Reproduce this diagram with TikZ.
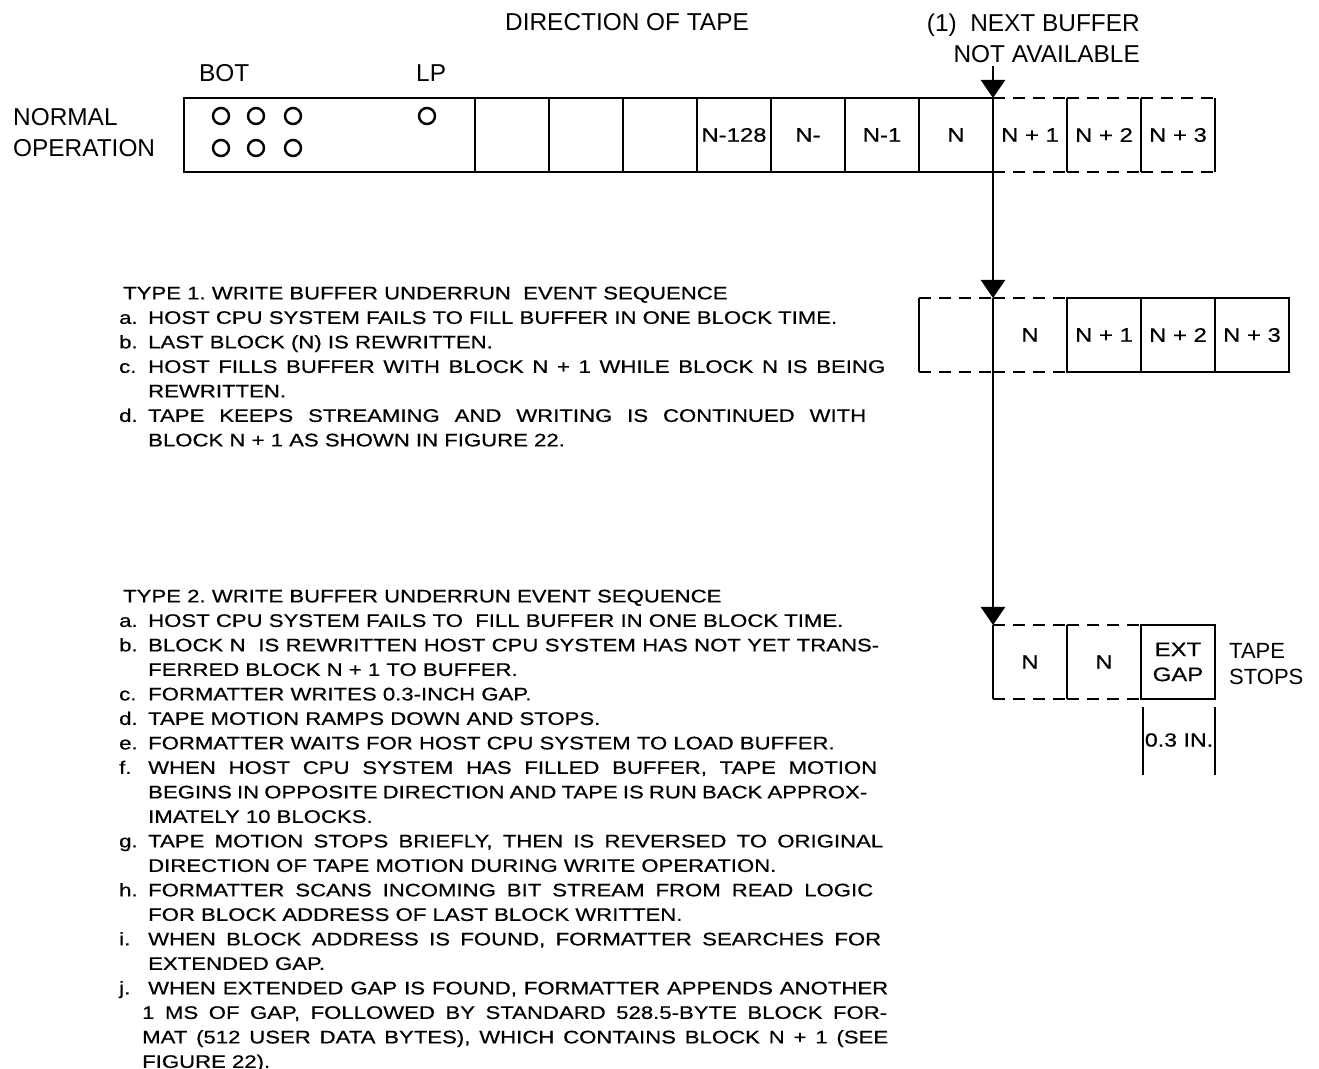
\documentclass[tikz,border=0pt]{standalone}
\usepackage{fontspec}
\setmainfont{Liberation Sans}
\newfontfamily\bodyfont[FakeStretch=1.22,FakeBold=0.5]{Liberation Sans}
\usetikzlibrary{positioning,arrows.meta}
\tikzset{
  blk/.style={draw,rectangle,minimum width=37pt,minimum height=37pt,
    inner sep=0pt,outer sep=0pt,font=\bodyfont\fontsize{9.8}{12.5}\selectfont},
  openblk/.style={blk,draw=none},
}
\newcommand{\itm}[1]{\makebox[14.5pt][l]{#1}}
\newcommand{\fillto}[2]{\makebox[#1][s]{#2}}

\begin{document}
\begin{tikzpicture}[x=0.5pt,y=-0.5pt,line width=1.2pt,
  lbl/.style={inner sep=0pt,font=\fontsize{12.2}{15.5}\selectfont},
  notes/.style={inner sep=0pt,anchor=north west,align=left,
    font=\bodyfont\fontsize{9.08}{12.25}\selectfont},
  gapline/.style={dash pattern=on 6pt off 4pt},
  feed/.style={-{Triangle[width=12pt,length=9pt]}}
]
  \useasboundingbox (0,0) rectangle (1319,1069);

  % labels over the tape
  \node[lbl] (dir) at (627,22) {DIRECTION OF TAPE};
  \node[lbl,align=right,anchor=north east] (nobuf) at (1141,13) {(1)\ \ NEXT BUFFER\\NOT AVAILABLE};
  \node[lbl,anchor=west] (botlbl) at (198,73) {BOT};
  \node[lbl,anchor=west] (lplbl) at (415,73) {LP};
  \node[lbl,align=left,anchor=west] (normal) at (12,132.5) {NORMAL\\OPERATION};

  % normal operation tape
  \node[blk,minimum width=145.5pt] (bot) at (329.5,135) {};
  \node[blk] (t1) at (512,135) {};
  \node[blk] (t2) at (586,135) {};
  \node[blk] (t3) at (660,135) {};
  \node[blk] (t128) at (734,135) {N-128};
  \node[blk] (tnm) at (808,135) {N-};
  \node[blk] (tn1) at (882,135) {N-1};
  \node[blk] (tn) at (956,135) {N};
  \node[openblk] (tp1) at (1030,135) {N + 1};
  \node[openblk] (tp2) at (1104,135) {N + 2};
  \node[openblk] (tp3) at (1178,135) {N + 3};

  \foreach \x in {221,256,293}
    \foreach \y in {116,148}
      \draw (\x,\y) circle[radius=4pt];
  \draw (427,116) circle[radius=4pt];

  % type 1 tape
  \node[openblk] (m0) at (956,335) {};
  \node[openblk] (mn) at (1030,335) {N};
  \node[blk] (mp1) at (1104,335) {N + 1};
  \node[blk] (mp2) at (1178,335) {N + 2};
  \node[blk] (mp3) at (1252,335) {N + 3};

  % type 2 tape
  \node[openblk] (s1) at (1030,662) {N};
  \node[openblk] (s2) at (1104,662) {N};
  \node[blk,align=center] (extgap) at (1178,662) {EXT\\GAP};
  \node[lbl,align=left,anchor=west,font=\fontsize{11}{13}\selectfont] (stops) at (1228,664) {TAPE\\STOPS};

  % blocks not yet on tape
  \foreach \c in {tp1,tp2,tp3,m0,mn,s1,s2}{
    \draw[gapline] (\c.north west) -- (\c.north east);
    \draw[gapline] (\c.south west) -- (\c.south east);
  }
  \foreach \c in {tp1,tp2,tp3,m0,s1}
    \draw (\c.north east) -- (\c.south east);
  \draw (m0.north west) -- (m0.south west);
  \draw (s1.north west) -- (s1.south west);

  % where the buffer runs out
  \coordinate (drop) at (993,66);
  \draw[feed] (drop) -- (tn.north east);
  \draw[feed] (tn.south east) -- (m0.north east);
  \draw[feed] (m0.south east) -- (s1.north west);

  % gap length
  \coordinate (ga) at (1143,707);
  \coordinate (gb) at (1143,775);
  \coordinate (gc) at (1215,707);
  \coordinate (gd) at (1215,775);
  \draw (ga) -- (gb);
  \draw (gc) -- (gd);
  \node[inner sep=0pt,font=\bodyfont\fontsize{9.5}{11}\selectfont] (gapw) at (1179,740) {0.3 IN.};

  % event sequences
  \node[notes] (type1) at (118,285.5) {%
    \hspace*{2pt}TYPE 1.\ WRITE BUFFER UNDERRUN\ \ EVENT SEQUENCE\\
    \itm{a.}HOST CPU SYSTEM FAILS TO FILL BUFFER IN ONE BLOCK TIME.\\
    \itm{b.}LAST BLOCK (N) IS REWRITTEN.\\
    \itm{c.}\fillto{368.5pt}{HOST FILLS BUFFER WITH BLOCK N + 1 WHILE BLOCK N IS BEING}\\
    \itm{}REWRITTEN.\\
    \itm{d.}\fillto{359pt}{TAPE KEEPS STREAMING AND WRITING IS CONTINUED WITH}\\
    \itm{}BLOCK N + 1 AS SHOWN IN FIGURE 22.};

  \node[notes] (type2) at (118,588.5) {%
    \hspace*{2pt}TYPE 2.\ WRITE BUFFER UNDERRUN EVENT SEQUENCE\\
    \itm{a.}HOST CPU SYSTEM FAILS TO\ \ FILL BUFFER IN ONE BLOCK TIME.\\
    \itm{b.}\fillto{365.5pt}{BLOCK N\ \ IS REWRITTEN HOST CPU SYSTEM HAS NOT YET TRANS-}\\
    \itm{}FERRED BLOCK N + 1 TO BUFFER.\\
    \itm{c.}FORMATTER WRITES 0.3-INCH GAP.\\
    \itm{d.}TAPE MOTION RAMPS DOWN AND STOPS.\\
    \itm{e.}FORMATTER WAITS FOR HOST CPU SYSTEM TO LOAD BUFFER.\\
    \itm{f.}\fillto{364.5pt}{WHEN HOST CPU SYSTEM HAS FILLED BUFFER, TAPE MOTION}\\
    \itm{}\fillto{359.5pt}{BEGINS IN OPPOSITE DIRECTION AND TAPE IS RUN BACK APPROX-}\\
    \itm{}IMATELY 10 BLOCKS.\\
    \itm{g.}\fillto{367.5pt}{TAPE MOTION STOPS BRIEFLY, THEN IS REVERSED TO ORIGINAL}\\
    \itm{}DIRECTION OF TAPE MOTION DURING WRITE OPERATION.\\
    \itm{h.}\fillto{362.5pt}{FORMATTER SCANS INCOMING BIT STREAM FROM READ LOGIC}\\
    \itm{}FOR BLOCK ADDRESS OF LAST BLOCK WRITTEN.\\
    \itm{i.}\fillto{366.5pt}{WHEN BLOCK ADDRESS IS FOUND, FORMATTER SEARCHES FOR}\\
    \itm{}EXTENDED GAP.\\
    \itm{j.}\fillto{370pt}{WHEN EXTENDED GAP IS FOUND, FORMATTER APPENDS ANOTHER}\\
    \hspace*{11.5pt}\fillto{372.5pt}{1 MS OF GAP, FOLLOWED BY STANDARD 528.5-BYTE BLOCK FOR-}\\
    \hspace*{11.5pt}\fillto{373pt}{MAT (512 USER DATA BYTES), WHICH CONTAINS BLOCK N + 1 (SEE}\\
    \hspace*{11.5pt}FIGURE 22).};
\end{tikzpicture}
\end{document}
